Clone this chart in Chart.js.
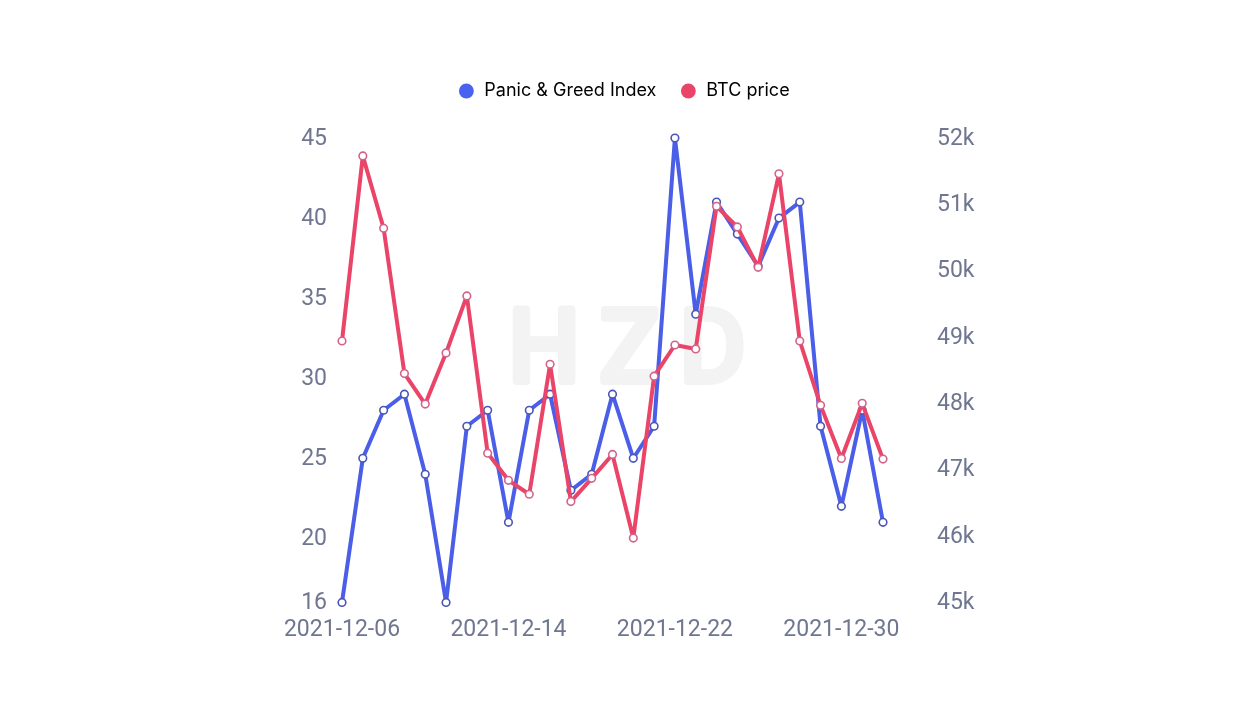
<!DOCTYPE html>
<html>
<head>
<meta charset="utf-8">
<style>
  html, body { margin: 0; padding: 0; background: #fff; }
  canvas { display: block; }
</style>
<script src="https://cdn.jsdelivr.net/npm/chart.js@4/dist/chart.umd.min.js"></script>
</head>
<body>
<canvas id="chart" width="1254" height="704"></canvas>
<script>
const dates = [
  "2021-12-06", "2021-12-07", "2021-12-08", "2021-12-09", "2021-12-10", "2021-12-11", "2021-12-12",
  "2021-12-13", "2021-12-14", "2021-12-15", "2021-12-16", "2021-12-17", "2021-12-18", "2021-12-19",
  "2021-12-20", "2021-12-21", "2021-12-22", "2021-12-23", "2021-12-24", "2021-12-25", "2021-12-26",
  "2021-12-27", "2021-12-28", "2021-12-29", "2021-12-30", "2021-12-31", "2022-01-01"
];
const shownDates = ["2021-12-06", "2021-12-14", "2021-12-22", "2021-12-30"];
const greedIndex = [16, 25, 28, 29, 24, 16, 27, 28, 21, 28, 29, 23, 24, 29, 25, 27, 45, 34, 41, 39, 37, 40, 41, 27, 22, 28, 21];
const btcPrice = [
  48940, 51730, 50640, 48450, 47990, 48760, 49620, 47250, 46840, 46630, 48590, 46520, 46870, 47230,
  45970, 48410, 48880, 48820, 50970, 50660, 50050, 51460, 48940, 47970, 47170, 48000, 47160
];
const leftTicks = [16, 20, 25, 30, 35, 40, 45];
const rightTicks = [45000, 46000, 47000, 48000, 49000, 50000, 51000, 52000];

const tickColor = "#6f7790";
const tickFont = { family: "Roboto", size: 23 };

// faint logo behind the lines, and some air under the legend
const extras = {
  id: "extras",
  beforeInit(chart) {
    const fit = chart.legend.fit;
    chart.legend.fit = function () {
      fit.call(this);
      this.height += 28;
    };
  },
  beforeDatasetsDraw(chart) {
    const ctx = chart.ctx;
    ctx.save();
    ctx.font = "100px Roboto";
    ctx.letterSpacing = "20px";
    ctx.fillStyle = "#f3f3f4";
    ctx.strokeStyle = "#f3f3f4";
    ctx.lineWidth = 8;
    ctx.lineJoin = "round";
    ctx.textAlign = "center";
    ctx.textBaseline = "middle";
    ctx.fillText("HZD", 637, 356);
    ctx.strokeText("HZD", 637, 356);
    ctx.restore();
  }
};

new Chart(document.getElementById("chart"), {
  type: "line",
  plugins: [extras],
  data: {
    labels: dates,
    datasets: [
      {
        label: "Panic & Greed Index",
        data: greedIndex,
        yAxisID: "left",
        order: 1,
        clip: false,
        borderColor: "#4a5ee8",
        borderWidth: 4,
        borderJoinStyle: "round",
        tension: 0,
        pointRadius: 3.8,
        pointBorderWidth: 1.6,
        pointBackgroundColor: "#fff",
        pointBorderColor: "#4a55b8",
        legendColor: "#4a62f0"
      },
      {
        label: "BTC price",
        data: btcPrice,
        yAxisID: "right",
        order: 0,
        clip: false,
        borderColor: "#ea4468",
        borderWidth: 4,
        borderJoinStyle: "round",
        tension: 0,
        pointRadius: 3.8,
        pointBorderWidth: 1.6,
        pointBackgroundColor: "#fff",
        pointBorderColor: "#d2648c",
        legendColor: "#ea4468"
      }
    ]
  },
  options: {
    responsive: false,
    animation: false,
    layout: { padding: { left: 268, right: 275, top: 59, bottom: 54 } },
    plugins: {
      tooltip: { enabled: false },
      legend: {
        position: "top",
        labels: {
          usePointStyle: true,
          pointStyle: "circle",
          boxWidth: 18,
          boxHeight: 10.5,
          padding: 23,
          color: "#333",
          font: { family: "Inter", size: 18 },
          generateLabels: chart => chart.data.datasets.map((ds, i) => ({
            text: ds.label,
            fillStyle: ds.legendColor,
            strokeStyle: ds.legendColor,
            lineWidth: 0,
            pointStyle: "circle",
            datasetIndex: i
          }))
        }
      }
    },
    scales: {
      x: {
        grid: { display: false },
        border: { display: false },
        ticks: {
          autoSkip: false,
          maxRotation: 0,
          padding: 6,
          color: tickColor,
          font: tickFont,
          callback(value) {
            const d = this.getLabelForValue(value);
            return shownDates.includes(d) ? d : "";
          }
        }
      },
      left: {
        position: "left",
        min: 16,
        max: 45,
        grid: { display: false },
        border: { display: false },
        afterBuildTicks: axis => { axis.ticks = leftTicks.map(value => ({ value })); },
        afterFit: axis => { axis.width = 74; },
        ticks: { color: tickColor, font: tickFont, padding: 7, labelOffset: 1 }
      },
      right: {
        position: "right",
        min: 45000,
        max: 52000,
        grid: { display: false },
        border: { display: false },
        afterBuildTicks: axis => { axis.ticks = rightTicks.map(value => ({ value })); },
        afterFit: axis => { axis.width = 96; },
        ticks: {
          color: tickColor,
          font: tickFont,
          padding: 46,
          labelOffset: 1,
          callback: value => value / 1000 + "k"
        }
      }
    }
  }
});
</script>
</body>
</html>
